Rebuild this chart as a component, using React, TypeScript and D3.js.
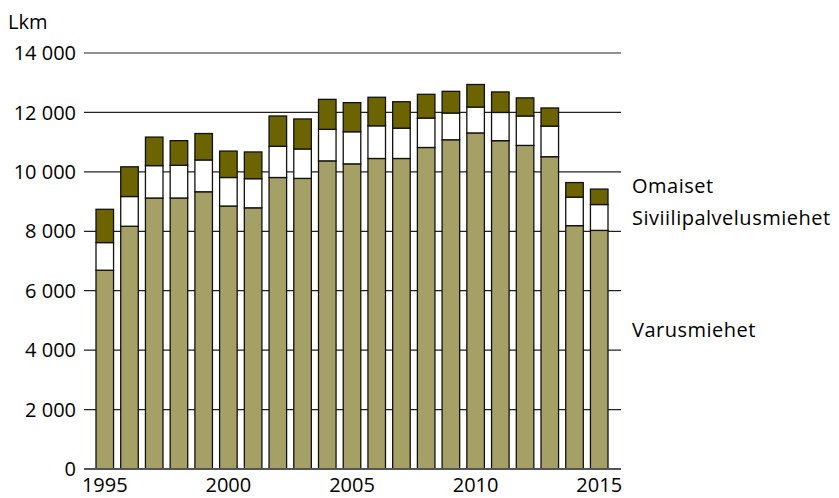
import React, { useRef, useEffect } from 'react';
import * as d3 from 'd3';

// vuodet ja sarjat
const years = d3.range(1995, 2016).map(String);
const varusmiehet = [6690, 8170, 9120, 9120, 9330, 8850, 8790, 9810, 9780, 10370, 10270, 10450, 10450, 10820, 11080, 11310, 11050, 10890, 10510, 8190, 8030];
const siviilipalvelusmiehet = [930, 1000, 1090, 1100, 1070, 960, 980, 1050, 990, 1060, 1080, 1100, 1020, 990, 900, 870, 950, 990, 1030, 960, 870];
const omaiset = [1120, 1000, 960, 830, 890, 890, 900, 1020, 1010, 1010, 980, 960, 890, 800, 730, 760, 690, 610, 610, 490, 520];
const yTicks = [0, 2000, 4000, 6000, 8000, 10000, 12000, 14000];
const xLabels = ['1995', '2000', '2005', '2010', '2015'];

const seriesKeys = ['Varusmiehet', 'Siviilipalvelusmiehet', 'Omaiset'];
const colors: Record<string, string> = {
    Varusmiehet: '#a5a066',
    Siviilipalvelusmiehet: '#ffffff',
    Omaiset: '#6b6400',
};

const W = 839;
const H = 498;
const FONT = '"Open Sans", sans-serif';

const Chart: React.FC = () => {
    const ref = useRef<SVGSVGElement>(null);

    useEffect(() => {
        if (!ref.current) return;
        const svg = d3.select(ref.current);
        svg.selectAll('*').remove();

        const rows = years.map((yr, i) => ({
            year: yr,
            Varusmiehet: varusmiehet[i],
            Siviilipalvelusmiehet: siviilipalvelusmiehet[i],
            Omaiset: omaiset[i],
        }));

        const x = d3.scaleBand()
            .domain(years)
            .range([96, 608])
            .paddingInner(0.29)
            .paddingOuter(0);

        const y = d3.scaleLinear()
            .domain([0, 14000])
            .range([469, 53]);

        // ruudukko
        svg.append('g')
            .selectAll('line')
            .data(yTicks.filter(d => d > 0))
            .enter().append('line')
            .attr('x1', 84)
            .attr('x2', 621)
            .attr('y1', d => y(d))
            .attr('y2', d => y(d))
            .attr('stroke', '#222')
            .attr('stroke-width', 1.2);

        const stack = d3.stack<any>().keys(seriesKeys);
        const stacked = stack(rows);

        svg.append('g')
            .selectAll('g')
            .data(stacked)
            .enter().append('g')
            .attr('fill', d => colors[d.key])
            .selectAll('rect')
            .data(d => d)
            .enter().append('rect')
            .attr('x', d => x(d.data.year)!)
            .attr('y', d => y(d[1]))
            .attr('width', x.bandwidth())
            .attr('height', d => y(d[0]) - y(d[1]))
            .attr('stroke', '#111')
            .attr('stroke-width', 1.3);

        // x-akseli
        svg.append('line')
            .attr('x1', 84)
            .attr('x2', 621)
            .attr('y1', y(0))
            .attr('y2', y(0))
            .attr('stroke', '#555')
            .attr('stroke-width', 2);

        // y-tikit
        svg.append('g')
            .selectAll('text')
            .data(yTicks)
            .enter().append('text')
            .attr('x', 76)
            .attr('y', d => y(d))
            .attr('dy', '0.36em')
            .attr('text-anchor', 'end')
            .attr('font-family', FONT)
            .attr('font-size', 20)
            .attr('fill', '#000')
            .text(d => d3.format(',')(d).replace(/,/g, ' '));

        svg.append('g')
            .selectAll('text')
            .data(xLabels)
            .enter().append('text')
            .attr('x', d => x(d)! + x.bandwidth() / 2)
            .attr('y', 492)
            .attr('text-anchor', 'middle')
            .attr('font-family', FONT)
            .attr('font-size', 20)
            .attr('fill', '#000')
            .text(d => d);

        svg.append('text')
            .attr('x', 8)
            .attr('y', 29)
            .attr('font-family', FONT)
            .attr('font-size', 20)
            .attr('fill', '#000')
            .text('Lkm');

        // sarjojen nimet
        const labels = [
            { t: 'Omaiset', y: 193 },
            { t: 'Siviilipalvelusmiehet', y: 225 },
            { t: 'Varusmiehet', y: 337 },
        ];
        svg.append('g')
            .selectAll('text')
            .data(labels)
            .enter().append('text')
            .attr('x', 632)
            .attr('y', d => d.y)
            .attr('font-family', FONT)
            .attr('font-size', 20)
            .attr('letter-spacing', 0.5)
            .attr('fill', '#000')
            .text(d => d.t);
    }, []);

    return (
        <svg ref={ref} width={W} height={H} style={{ position: 'absolute', left: 0, top: 0, background: '#fff' }} />
    );
};

export default function App() {
    return <Chart />;
}
